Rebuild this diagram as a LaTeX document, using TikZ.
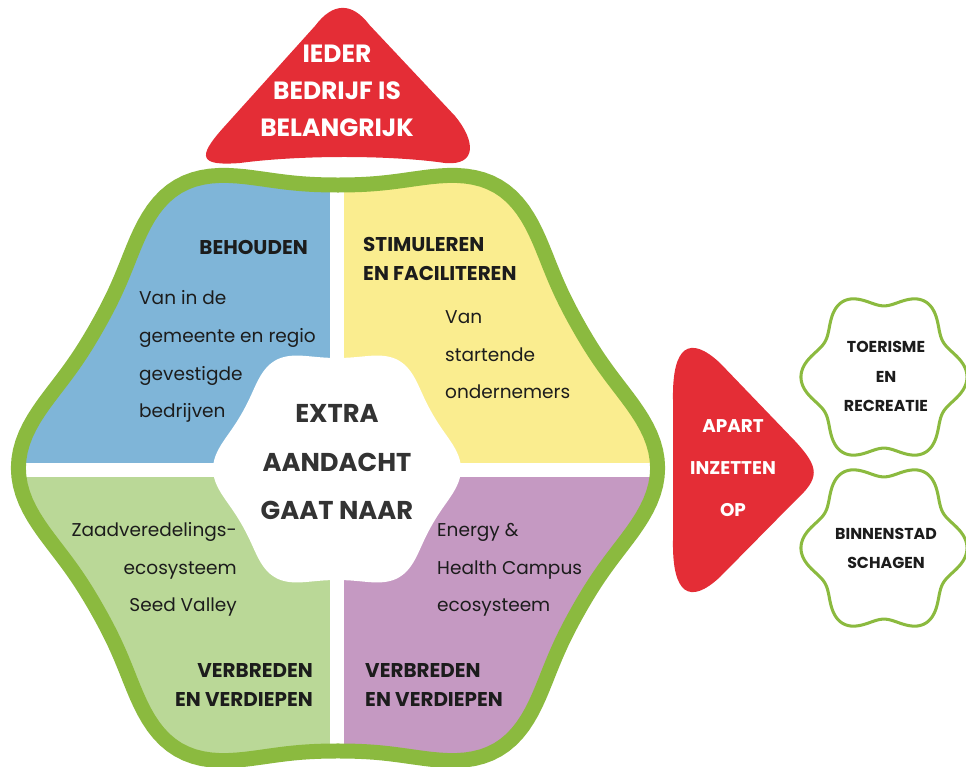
\documentclass[tikz,border=0pt]{standalone}
\usepackage{fontspec}
\setmainfont{Poppins}
\definecolor{blauw}{HTML}{7FB5D8}
\definecolor{geel}{HTML}{FAED8F}
\definecolor{lichtgroen}{HTML}{BAD897}
\definecolor{paars}{HTML}{C599C2}
\definecolor{rand}{HTML}{8BBA3F}
\definecolor{rood}{HTML}{E42D36}
\definecolor{donker}{HTML}{1C1C1C}
% golvende zeshoek: middelpunt, stralen, golf
\newcommand{\zeshoek}[6]{plot[domain=0:360,samples=241,variable=\t]
  ({#1+#3*(1+#5*cos(6*\t)+#6*cos(12*\t))*cos(\t)},{#2+#4*(1+#5*cos(6*\t)+#6*cos(12*\t))*sin(\t)})}
\tikzset{
  tekst/.style={inner sep=0pt,text=donker,font=\fontsize{15.8}{32.2}\selectfont},
  kop/.style={inner sep=0pt,text=donker,font=\bfseries\fontsize{17}{25.6}\selectfont},
  wittekst/.style={inner sep=0pt,text=white,font=\bfseries},
}
\begin{document}
\begin{tikzpicture}[x=0.03cm,y=-0.03cm]
\useasboundingbox (0,0) rectangle (966,767);

% vier vlakken
\begin{scope}
\clip \zeshoek{338}{468}{296.5}{301.7}{0.07}{0.008} -- cycle;
\fill[blauw] (0,150) rectangle (330,463);
\fill[geel] (344,150) rectangle (700,463);
\fill[lichtgroen] (0,477) rectangle (330,780);
\fill[paars] (344,477) rectangle (700,780);
\end{scope}
\fill[white] \zeshoek{337}{469}{116.4}{117.5}{0.06}{0.005} -- cycle;
\draw[rand,line width=12.8pt] \zeshoek{338}{468}{296.5}{301.7}{0.07}{0.008} -- cycle;

% rechts
\draw[rand,line width=2.6pt] \zeshoek{884}{377}{75.5}{79}{0.1}{0} -- cycle;
\draw[rand,line width=2.6pt] \zeshoek{884}{548}{75.5}{79}{0.1}{0} -- cycle;

% rode driehoeken
\fill[rood] (315,26) .. controls (333,2) and (352,2) .. (369.5,25) -- (455,116)
  .. controls (475,140) and (478,166) .. (445,163)
  .. controls (390,155) and (300,155) .. (240,163)
  .. controls (200,166) and (196,158) .. (224,127) -- cycle;
\fill[rood] (673,400) .. controls (672,345) and (690,335) .. (720,363) -- (795,441)
  .. controls (820,468) and (820,478) .. (795,501) -- (720,577)
  .. controls (690,605) and (672,595) .. (673,540) -- cycle;

% teksten
\node[wittekst,font=\bfseries\fontsize{21.3}{31.6}\selectfont,align=center,anchor=base] (ieder) at (337,137) {IEDER\\BEDRIJF IS\\BELANGRIJK};
\node[kop,anchor=base east,align=right] (behouden) at (308,255) {BEHOUDEN};
\node[tekst,anchor=base west,align=left] (gevestigd) at (139,418) {Van in de\\gemeente en regio\\gevestigde\\bedrijven};
\node[kop,anchor=base west,align=left] (stimuleren) at (363,281) {STIMULEREN\\EN FACILITEREN};
\node[tekst,anchor=base west,align=left] (starters) at (445,399) {Van\\startende\\ondernemers};
\node[kop,text=black!80,font=\bfseries\fontsize{22}{41.4}\selectfont,anchor=base,align=center] (extra) at (337,520) {EXTRA\\AANDACHT\\GAAT NAAR};
\node[tekst,anchor=base east,align=right] (seedvalley) at (237,612) {Zaadveredelings-\\ecosysteem\\Seed Valley};
\node[tekst,anchor=base west,align=left] (campus) at (437,612) {Energy \&\\Health Campus\\ecosysteem};
\node[kop,anchor=base east,align=right] (verbredenlinks) at (313,707) {VERBREDEN\\EN VERDIEPEN};
\node[kop,anchor=base west,align=left] (verbredenrechts) at (365,707) {VERBREDEN\\EN VERDIEPEN};
\node[wittekst,font=\bfseries\fontsize{15.7}{35.9}\selectfont,align=center,anchor=base] (apart) at (733,517) {APART\\INZETTEN\\OP};
\node[kop,font=\bfseries\fontsize{13.5}{25.2}\selectfont,align=center,anchor=base] (toerisme) at (886,412) {TOERISME\\EN\\RECREATIE};
\node[kop,font=\bfseries\fontsize{13.5}{25.2}\selectfont,align=center,anchor=base] (binnenstad) at (886,569) {BINNENSTAD\\SCHAGEN};
\end{tikzpicture}
\end{document}
